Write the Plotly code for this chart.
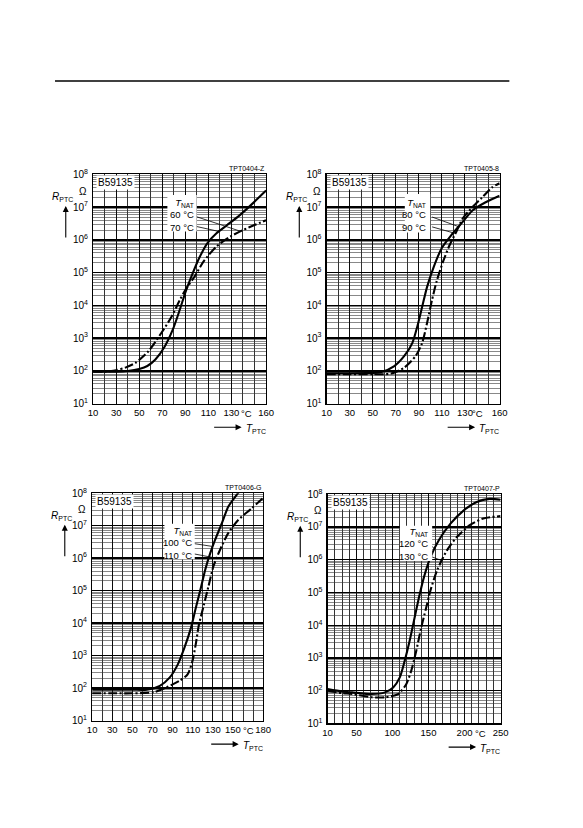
import plotly.graph_objects as go

W, H = 583, 828          # browser window
OFF = 8                  # default body margin of the page
FW, FH = W - 2 * OFF, H - 2 * OFF

# ---------------- data (T in °C, R in Ohm) ----------------
# Panel 1: TPT0404-Z, T_NAT 60 °C / 70 °C
p1_T_solid = [10, 20, 30, 40, 50, 57, 64, 72, 79, 85, 90.5, 96, 102, 109, 117, 126, 137, 148, 160]
p1_R_solid = [95, 95, 95, 100, 115, 141, 224, 550, 1780, 7100, 28000, 89000, 2.8e5, 7.9e5,
              1.6e6, 2.8e6, 5.6e6, 1.26e7, 3.2e7]
p1_T_dash = [10, 20, 30, 38, 47, 58, 69, 78, 85, 90.5, 97.5, 106, 117, 129, 140, 151, 160]
p1_R_dash = [95, 95, 105, 126, 178, 400, 1410, 4500, 14100, 31600, 71000, 2.24e5, 6.3e5,
             1.26e6, 2.0e6, 2.95e6, 4.0e6]

# Panel 2: TPT0405-8, T_NAT 80 °C / 90 °C
p2_T_solid = [10, 30, 50, 57.5, 68.7, 77.2, 84.3, 88.6, 92.8, 97, 102.6, 109.8, 118.2, 128, 136.5,
              147.9, 160]
p2_R_solid = [85, 85, 87, 93, 141, 282, 708, 2240, 8900, 35500, 1.41e5, 5.6e5, 1.41e6, 3.55e6,
              7.9e6, 1.41e7, 2.24e7]
p2_T_dash = [10, 30, 50, 65.9, 77.2, 87.1, 92.8, 97, 101.3, 105.5, 111.1, 116.8, 122.5, 128, 136.5,
             145, 153.5, 160]
p2_R_dash = [79, 79, 79, 83, 126, 282, 708, 2820, 14100, 56000, 2.24e5, 7.1e5, 1.78e6, 4.5e6,
             1.0e7, 2.0e7, 4.0e7, 5.4e7]

# Panel 3: TPT0406-G, T_NAT 100 °C / 110 °C
p3_T_solid = [10, 30, 50, 64.4, 77.3, 87, 95.2, 101.6, 108.1, 112.9, 117.8, 122.6, 127.5, 132.3,
              138.9, 145.3, 155, 160]
p3_R_solid = [89, 89, 89, 89, 117, 209, 537, 1700, 6900, 28200, 1.12e5, 4.6e5, 1.45e6, 3.7e6,
              1.17e7, 3.8e7, 1.0e8, 1.6e8]
p3_T_dash = [10, 30, 50, 70.9, 83.8, 96.7, 104.9, 109.7, 112.9, 116.1, 121, 125.8, 130.7, 137.2,
             145.3, 155, 168, 180]
p3_R_dash = [69, 69, 69, 74, 105, 166, 263, 676, 2140, 8700, 35500, 1.41e5, 5.75e5, 1.82e6,
             5.9e6, 1.48e7, 3.3e7, 7.1e7]

# Panel 4: TPT0407-P, T_NAT 120 °C / 130 °C
p4_T_solid = [10, 30, 44, 71.4, 89.5, 101, 110, 116.8, 123.6, 130.4, 137.3, 144.1, 153.2, 164.5,
              180.5, 198.6, 216.9, 235, 250]
p4_R_solid = [112, 95, 89, 79, 89, 126, 251, 794, 3160, 15800, 79000, 3.16e5, 1.26e6, 4.0e6,
              1.26e7, 3.16e7, 5.75e7, 7.2e7, 6.8e7]
p4_T_dash = [10, 30, 44, 71.4, 89.5, 107.8, 119.1, 125.9, 132.8, 139.6, 146.4, 153.2, 162.4, 176,
             189.6, 207.8, 225.9, 250]
p4_R_dash = [100, 85, 79, 63, 63, 79, 158, 398, 1580, 7900, 31600, 1.26e5, 5.0e5, 2.0e6, 5.0e6,
             1.15e7, 1.82e7, 2.14e7]

# leader lines (legend text -> curve), T and R
p1_lead1_T, p1_lead1_R = [99, 138.5], [5.2e6, 1.8e6]
p1_lead2_T, p1_lead2_R = [99, 119.5], [2.6e6, 1.8e6]
p2_lead1_T, p2_lead1_R = [101.5, 125], [5.0e6, 2.5e6]
p2_lead2_T, p2_lead2_R = [101.5, 121], [2.5e6, 1.6e6]
p3_lead1_T, p3_lead1_R = [111.5, 129.5], [2.8e6, 2.3e6]
p3_lead2_T, p3_lead2_R = [111.5, 133.5], [1.35e6, 1.0e6]
p4_lead1_T, p4_lead1_R = [153.5, 159], [2.7e6, 2.1e6]
p4_lead2_T, p4_lead2_R = [153.5, 168], [1.25e6, 0.95e6]

# axis ranges / tick labels
x_ranges = [[10, 160], [10, 160], [10, 180], [10, 250]]
x_labels = [
    [10, 30, 50, 70, 90, 110, 130, 160],
    [10, 30, 50, 70, 90, 110, 130, 160],
    [10, 30, 50, 70, 90, 110, 130, 150, 180],
    [10, 50, 100, 150, 200, 250],
]
y_exponents = [1, 2, 3, 4, 5, 6, 7, 8]
codes = ["TPT0404-Z", "TPT0405-8", "TPT0406-G", "TPT0407-P"]
tnat = [("60 °C", "70 °C"), ("80 °C", "90 °C"), ("100 °C", "110 °C"), ("120 °C", "130 °C")]
type_no = "B59135"

series = [
    (p1_T_solid, p1_R_solid, p1_T_dash, p1_R_dash,
     (p1_lead1_T, p1_lead1_R), (p1_lead2_T, p1_lead2_R)),
    (p2_T_solid, p2_R_solid, p2_T_dash, p2_R_dash,
     (p2_lead1_T, p2_lead1_R), (p2_lead2_T, p2_lead2_R)),
    (p3_T_solid, p3_R_solid, p3_T_dash, p3_R_dash,
     (p3_lead1_T, p3_lead1_R), (p3_lead2_T, p3_lead2_R)),
    (p4_T_solid, p4_R_solid, p4_T_dash, p4_R_dash,
     (p4_lead1_T, p4_lead1_R), (p4_lead2_T, p4_lead2_R)),
]

# ---------------- layout geometry (page pixels) ----------------
geom = [
    dict(x0=90, x1=267, y0=170, y1=403),
    dict(x0=329, x1=506, y0=170, y1=403),
    dict(x0=89, x1=264, y0=494, y1=725),
    dict(x0=330, x1=507, y0=495, y1=728),
]

FONT = "Liberation Sans Narrow, Liberation Sans, Arial, Helvetica, sans-serif"


def X(px):
    return (px - OFF) / FW


def Y(py):
    return 1 - (py - OFF) / FH


fig = go.Figure()
annotations = []
shapes = []


def ann(text, x, y, xanchor="center", yanchor="middle", size=10, bg=None, align="center"):
    d = dict(text=text, x=X(x), y=Y(y), xref="paper", yref="paper", xanchor=xanchor,
             yanchor=yanchor, showarrow=False, align=align,
             font=dict(family=FONT, size=size, color="black"))
    if bg:
        d["bgcolor"] = bg
        d["borderpad"] = 1
    annotations.append(d)


def arrow(hx, hy, tx, ty):
    annotations.append(dict(text="", x=X(hx), y=Y(hy), xref="paper", yref="paper",
                            ax=tx - hx, ay=ty - hy, axref="pixel", ayref="pixel",
                            showarrow=True, arrowhead=2, arrowsize=1.1, arrowwidth=1.1,
                            arrowcolor="black"))


minor_vals = [k * 10 ** n for n in range(1, 8) for k in range(2, 10)]

for i, (g, s) in enumerate(zip(geom, series)):
    n = i + 1
    xa = "x" if n == 1 else f"x{n}"
    ya = "y" if n == 1 else f"y{n}"
    Ts, Rs, Td, Rd, l1, l2 = s
    fig.add_trace(go.Scatter(x=Ts, y=Rs, mode="lines", xaxis=xa, yaxis=ya, showlegend=False,
                             line=dict(color="black", width=2.1, shape="spline", smoothing=0.7)))
    fig.add_trace(go.Scatter(x=Td, y=Rd, mode="lines", xaxis=xa, yaxis=ya, showlegend=False,
                             line=dict(color="black", width=2.1, shape="spline", smoothing=0.7,
                                       dash="9px,2.5px,2px,2.5px")))
    for lt, lr in (l1, l2):
        fig.add_trace(go.Scatter(x=lt, y=lr, mode="lines", xaxis=xa, yaxis=ya, showlegend=False,
                                 line=dict(color="black", width=0.8)))

    xr = x_ranges[i]
    grid_vals = list(range(xr[0], xr[1] + 1, 10))
    labs = x_labels[i]
    xaxis = dict(domain=[X(g["x0"]), X(g["x1"])], range=xr, anchor=ya,
                 tickmode="array", tickvals=labs, ticktext=[str(v) for v in labs],
                 tickangle=0,
                 showgrid=True, gridcolor="black", gridwidth=0.8,
                 minor=dict(tickmode="array", tickvals=grid_vals, showgrid=True,
                            gridcolor="black", gridwidth=0.8, ticks=""),
                 showline=True, mirror=True, linecolor="black", linewidth=1.2,
                 ticks="", zeroline=False, fixedrange=True,
                 tickfont=dict(family=FONT, size=9.5, color="black"))
    yaxis = dict(domain=[Y(g["y1"]), Y(g["y0"])], type="log", range=[1, 8], anchor=xa,
                 tickmode="array", tickvals=[10 ** e for e in y_exponents],
                 ticktext=[f"10<sup>{e}</sup>" for e in y_exponents],
                 showgrid=True, gridcolor="black", gridwidth=1.4,
                 minor=dict(tickmode="array", tickvals=minor_vals, showgrid=True,
                            gridcolor="#383838", gridwidth=0.6, ticks=""),
                 showline=True, mirror=True, linecolor="black", linewidth=1.2,
                 ticks="", zeroline=False, fixedrange=True, ticklabelstandoff=2,
                 tickfont=dict(family=FONT, size=10, color="black"))
    fig.update_layout(**{("xaxis" if n == 1 else f"xaxis{n}"): xaxis,
                         ("yaxis" if n == 1 else f"yaxis{n}"): yaxis})

    x0, x1, y0, y1 = g["x0"], g["x1"], g["y0"], g["y1"]
    # drawing code
    ann(codes[i], x1 + 1, y0 - 6, xanchor="right", size=7)
    # type number box
    ann(type_no, x0 + 3, y0 + 8, xanchor="left", size=10, bg="white")
    # Ohm
    ann("Ω", x0 - 10, y0 + 17, size=10)
    # R_PTC + arrow up
    ann("<i>R</i><sub>PTC</sub>", x0 - 31, y0 + 23, size=10)
    arrow(x0 - 28, y0 + 32, x0 - 28, y0 + 65)
    # °C on the x axis
    cx = {0: 247, 1: 483, 2: 249, 3: 486}[i]
    ann("°C", cx, y1 + 10, size=9.5)
    # T_PTC arrow + label
    arrow(x1 - 25, y1 + 24, x1 - 54, y1 + 24)
    ann("<i>T</i><sub>PTC</sub>", x1 - 23, y1 + 26, xanchor="left", size=10)

# legend boxes (pixels: x0, x1, y0, y1), text right edge and vertical centre
leg = [
    dict(box=(166, 196, 191, 228), rx=195, yc=211),
    dict(box=(409, 435, 190, 229), rx=433, yc=211),
    dict(box=(163, 194, 525, 561), rx=193, yc=545),
    dict(box=(404, 437, 527, 563), rx=435, yc=546),
]
for i, L in enumerate(leg):
    bx0, bx1, by0, by1 = L["box"]
    shapes.append(dict(type="rect", xref="paper", yref="paper", x0=X(bx0), x1=X(bx1),
                       y0=Y(by1), y1=Y(by0), fillcolor="white", line=dict(width=0),
                       layer="above"))
    ann(f"<i>T</i><sub>NAT</sub><br>{tnat[i][0]}<br>{tnat[i][1]}", L["rx"], L["yc"],
        xanchor="right", size=9.5, align="right")

# top rule of the page
shapes.append(dict(type="line", xref="paper", yref="paper", x0=X(51), x1=X(516), y0=Y(75),
                   y1=Y(75), line=dict(color="black", width=1.4)))

fig.update_layout(width=FW, height=FH, autosize=False,
                  margin=dict(l=0, r=0, t=0, b=0, pad=0),
                  paper_bgcolor="white", plot_bgcolor="white",
                  font=dict(family=FONT, size=10, color="black"),
                  annotations=annotations, shapes=shapes, showlegend=False)

fig.write_html("out.html", config={"staticPlot": True})
